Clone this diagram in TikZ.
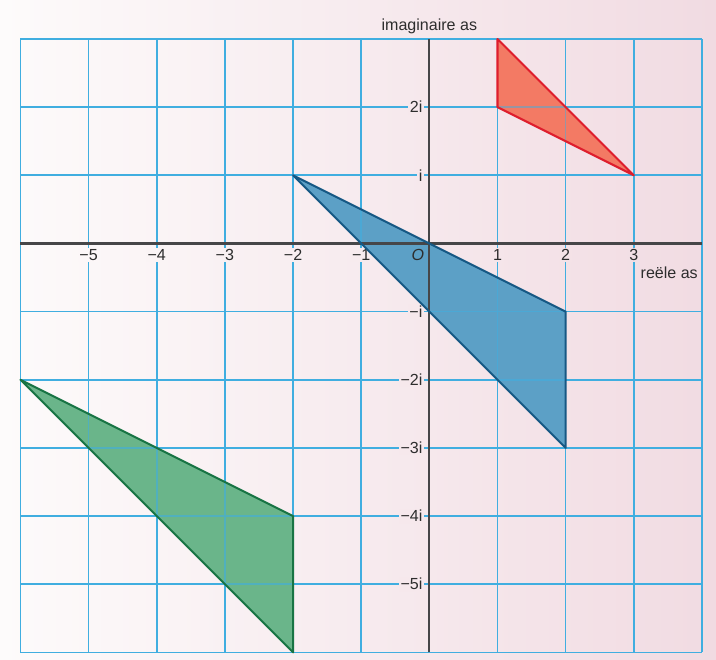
\documentclass[tikz,border=0pt]{standalone}
\usepackage{fontspec}
\setmainfont{Liberation Sans}
\definecolor{bgL}{RGB}{253,251,251}
\definecolor{bgR}{RGB}{241,219,226}
\definecolor{gridc}{RGB}{64,174,224}
\definecolor{axisc}{RGB}{70,70,72}
\definecolor{txtc}{RGB}{45,45,45}
\definecolor{redfill}{RGB}{243,122,100}
\definecolor{redline}{RGB}{222,30,45}
\definecolor{bluefill}{RGB}{92,160,198}
\definecolor{blueline}{RGB}{22,88,132}
\definecolor{greenfill}{RGB}{106,181,138}
\definecolor{greenline}{RGB}{24,116,68}
\begin{document}
\begin{tikzpicture}[x=1cm,y=1cm,
  gridline/.style={draw=gridc, line width=0.7pt},
  axisline/.style={draw=axisc, line width=0.9pt},
  lbl/.style={font=\fontsize{6.7}{8}\selectfont, text=txtc, inner sep=0.7pt},
  xlbl/.style={lbl, anchor=center},
  ylbl/.style={lbl, anchor=east, fill=bgR!58!bgL},
  shapeline/.style={line width=0.85pt, line join=round}]
% background
\shade[left color=bgL, right color=bgR] (-6.30,-6.112) rectangle (4.206,3.572);
\useasboundingbox (-6.30,-6.112) rectangle (4.206,3.572);
% grid
\draw[gridline] (-6,-6) grid (4,3);
% axis labels that hide grid lines
\node[xlbl, fill=bgR!12!bgL] (xm5) at (-5,-0.17) {−5};
\node[xlbl, fill=bgR!22!bgL] (xm4) at (-4,-0.17) {−4};
\node[xlbl, fill=bgR!31!bgL] (xm3) at (-3,-0.17) {−3};
\node[xlbl, fill=bgR!41!bgL] (xm2) at (-2,-0.17) {−2};
\node[xlbl, fill=bgR!50!bgL] (xm1) at (-1,-0.17) {−1};
\node[xlbl, fill=bgR!69!bgL] (xp1) at (1,-0.17) {1};
\node[xlbl, fill=bgR!79!bgL] (xp2) at (2,-0.17) {2};
\node[xlbl, fill=bgR!88!bgL] (xp3) at (3,-0.17) {3};
\node[ylbl] (yp2) at (-0.07,2) {2i};
\node[ylbl] (yp1) at (-0.07,1) {i};
\node[ylbl] (ym1) at (-0.07,-1) {−i};
\node[ylbl] (ym2) at (-0.07,-2) {−2i};
\node[ylbl] (ym3) at (-0.07,-3) {−3i};
\node[ylbl] (ym4) at (-0.07,-4) {−4i};
\node[ylbl] (ym5) at (-0.07,-5) {−5i};
% shape fills with grid shining through
\fill[redfill] (1,3) -- (1,2) -- (3,1) -- cycle;
\fill[bluefill] (-2,1) -- (2,-1) -- (2,-3) -- cycle;
\fill[greenfill] (-6,-2) -- (-2,-4) -- (-2,-6) -- cycle;
\begin{scope}
  \clip (1,3) -- (1,2) -- (3,1) -- cycle;
  \draw[gridline, draw opacity=0.5] (-6,-6) grid (4,3);
\end{scope}
\begin{scope}
  \clip (-2,1) -- (2,-1) -- (2,-3) -- cycle;
  \draw[gridline, draw opacity=0.6] (-6,-6) grid (4,3);
\end{scope}
\begin{scope}
  \clip (-6,-2) -- (-2,-4) -- (-2,-6) -- cycle;
  \draw[gridline, draw opacity=0.6] (-6,-6) grid (4,3);
\end{scope}
% axes
\draw[axisline] (-6,0) -- (4,0);
\draw[axisline] (0,-6) -- (0,3);
% shape outlines
\draw[redline, shapeline] (1,3) -- (1,2) -- (3,1) -- cycle;
\draw[blueline, shapeline] (-2,1) -- (2,-1) -- (2,-3) -- cycle;
\draw[greenline, shapeline] (-6,-2) -- (-2,-4) -- (-2,-6) -- cycle;
% other labels
\node[xlbl] (orig) at (-0.17,-0.17) {\textit{O}};
\node[lbl, anchor=base] (imag) at (0,3.13) {imaginaire as};
\node[lbl, anchor=base east] (reel) at (3.97,-0.51) {reële as};
\end{tikzpicture}
\end{document}
